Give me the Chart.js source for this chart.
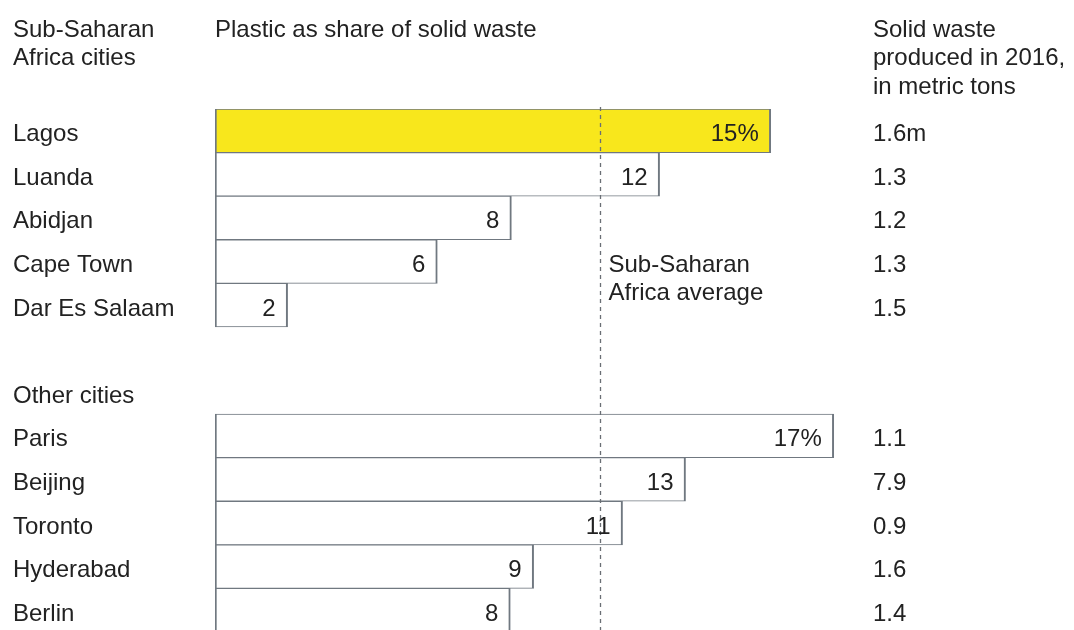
<!DOCTYPE html>
<html>
<head>
<meta charset="utf-8">
<script src="https://cdn.jsdelivr.net/npm/chart.js@4/dist/chart.umd.min.js"></script>
<style>
	html, body { margin: 0; padding: 0; background: #fff; overflow: hidden; }
	#wrap { position: relative; width: 1074px; height: 640px; }
</style>
</head>
<body>
<div id="wrap"><canvas id="chart"></canvas></div>
<script>
// rows, top to bottom; '' rows are spacer / group header rows
var rowLabels = ['Lagos', 'Luanda', 'Abidjan', 'Cape Town', 'Dar Es Salaam', '', 'Other cities', 'Paris', 'Beijing', 'Toronto', 'Hyderabad', 'Berlin'];
var plasticShare = [15, 12, 8, 6, 1.96, null, null, 16.7, 12.7, 11, 8.6, 7.97];
var shareLabels = ['15%', '12', '8', '6', '2', '', '', '17%', '13', '11', '9', '8'];
var wasteTons = ['1.6m', '1.3', '1.2', '1.3', '1.5', '', '', '1.1', '7.9', '0.9', '1.6', '1.4'];
var africaAverage = 10.4;

var headLeft = ['Sub-Saharan', 'Africa cities'];
var headMid = ['Plastic as share of solid waste'];
var headRight = ['Solid waste', 'produced in 2016,', 'in metric tons'];
var avgNote = ['Sub-Saharan', 'Africa average'];

var FONT = '24px "Liberation Sans", Arial, sans-serif';
var INK = '#222';

var textPlugin = {
	id: 'texts',
	afterDatasetsDraw: function(chart) {
		var ctx = chart.ctx;
		var x = chart.scales.x, y = chart.scales.y;
		var area = chart.chartArea;
		ctx.save();

		// average line, drawn over the bars
		var ax = Math.round(x.getPixelForValue(africaAverage)) + 0.5;
		ctx.strokeStyle = '#6a6f75';
		ctx.lineWidth = 1.3;
		ctx.setLineDash([4, 4]);
		ctx.beginPath();
		ctx.moveTo(ax, area.top - 2);
		ctx.lineTo(ax, area.bottom);
		ctx.stroke();
		ctx.setLineDash([]);

		ctx.font = FONT;
		ctx.fillStyle = INK;
		ctx.textBaseline = 'alphabetic';

		// headers
		ctx.textAlign = 'left';
		headLeft.forEach(function(t, i) { ctx.fillText(t, 13, 37 + i * 28.3); });
		headMid.forEach(function(t, i) { ctx.fillText(t, 215, 37 + i * 28.3); });
		headRight.forEach(function(t, i) { ctx.fillText(t, 873, 37 + i * 28.3); });

		rowLabels.forEach(function(lab, i) {
			var base = y.getPixelForValue(i) + 10.5;
			ctx.textAlign = 'left';
			ctx.fillText(lab, 13, base);
			ctx.fillText(wasteTons[i], 873, base);
			if (plasticShare[i] != null) {
				ctx.textAlign = 'right';
				ctx.fillText(shareLabels[i], x.getPixelForValue(plasticShare[i]) - 12, base);
			}
		});

		// note beside the average line
		ctx.textAlign = 'left';
		var nb = y.getPixelForValue(3) + 10.5;
		avgNote.forEach(function(t, i) { ctx.fillText(t, ax + 8, nb + i * 28.3); });

		ctx.restore();
	}
};

new Chart(document.getElementById('chart'), {
	type: 'bar',
	data: {
		labels: rowLabels,
		datasets: [{
			data: plasticShare,
			backgroundColor: plasticShare.map(function(v, i) { return i === 0 ? '#f8e71c' : '#ffffff'; }),
			borderColor: '#707880',
			borderWidth: { left: 2, right: 2, top: 1, bottom: 1 },
			borderSkipped: false,
			barPercentage: 1,
			categoryPercentage: 1
		}]
	},
	options: {
		indexAxis: 'y',
		responsive: true,
		maintainAspectRatio: false,
		animation: false,
		layout: { padding: { left: 215, right: 118, top: 109, bottom: 8 } },
		scales: {
			x: { display: false, min: 0, max: 20 },
			y: { display: false }
		},
		plugins: {
			legend: { display: false },
			tooltip: { enabled: false }
		}
	},
	plugins: [textPlugin]
});
</script>
</body>
</html>
